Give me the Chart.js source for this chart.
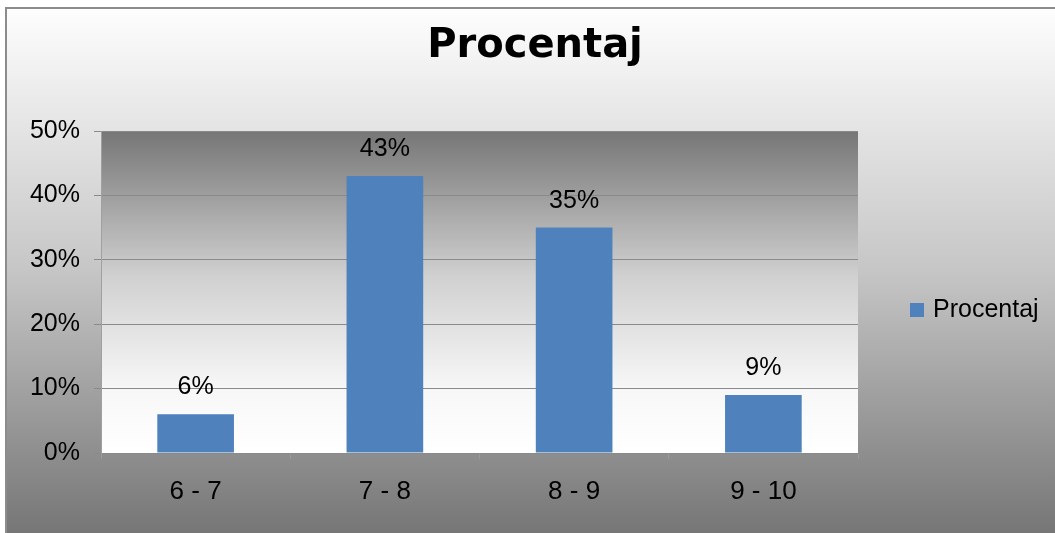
<!DOCTYPE html>
<html>
<head>
<meta charset="utf-8">
<script src="https://cdn.jsdelivr.net/npm/chart.js@4"></script>
<style>
html,body{margin:0;padding:0;background:#fff;}
canvas{display:block;}
</style>
</head>
<body>
<canvas id="c" width="1055" height="533"></canvas>
<script>
const categories = ['6 - 7', '7 - 8', '8 - 9', '9 - 10'];
const seriesName = 'Procentaj';
const values = [0.06, 0.43, 0.35, 0.09];
const yTickLabels = ['0%', '10%', '20%', '30%', '40%', '50%'];
const titleText = 'Procentaj';
const barColor = '#4F81BD';

const FONT = "'Liberation Sans', Arial, sans-serif";

const bgPlugin = {
  id: 'bg',
  beforeDraw(chart) {
    const ctx = chart.ctx;
    const W = chart.width, H = chart.height;
    ctx.save();
    ctx.fillStyle = '#ffffff';
    ctx.fillRect(0, 0, W, H);
    const g = ctx.createLinearGradient(0, 7, 0, H);
    g.addColorStop(0, '#fefefe');
    g.addColorStop(0.5, '#c6c6c6');
    g.addColorStop(1, '#767676');
    ctx.fillStyle = g;
    ctx.fillRect(5, 7, W - 5, H - 7);
    ctx.strokeStyle = '#8c8c8c';
    ctx.lineWidth = 2;
    ctx.beginPath();
    ctx.moveTo(6, H);
    ctx.lineTo(6, 8);
    ctx.lineTo(W, 8);
    ctx.stroke();
    const a = chart.chartArea;
    const pg = ctx.createLinearGradient(0, a.top, 0, a.bottom);
    pg.addColorStop(0, '#767676');
    pg.addColorStop(0.45, '#d0d0d0');
    pg.addColorStop(0.8, '#f7f7f7');
    pg.addColorStop(1, '#ffffff');
    ctx.fillStyle = pg;
    ctx.fillRect(a.left, a.top, a.right - a.left, a.bottom - a.top);
    ctx.restore();
  },
  afterDatasetsDraw(chart) {
    const ctx = chart.ctx;
    const meta = chart.getDatasetMeta(0);
    const ds = chart.data.datasets[0];
    ctx.save();
    ctx.font = '25px ' + FONT;
    ctx.fillStyle = '#000';
    ctx.textAlign = 'center';
    ctx.textBaseline = 'alphabetic';
    meta.data.forEach((bar, i) => {
      const v = ds.data[i];
      ctx.fillText(Math.round(v * 100) + '%', bar.x, bar.y - 20);
    });
    ctx.restore();
  },
  afterDraw(chart) {
    const ctx = chart.ctx;
    const ds = chart.data.datasets[0];
    ctx.save();
    ctx.fillStyle = ds.backgroundColor;
    ctx.fillRect(910, 303, 14, 14);
    ctx.font = '25px ' + FONT;
    ctx.fillStyle = '#000';
    ctx.textAlign = 'left';
    ctx.textBaseline = 'middle';
    ctx.fillText(ds.label, 933, 310);
    ctx.restore();
  }
};

new Chart(document.getElementById('c'), {
  type: 'bar',
  data: {
    labels: categories,
    datasets: [{
      label: seriesName,
      data: values,
      backgroundColor: barColor,
      borderWidth: 0,
      categoryPercentage: 1,
      barPercentage: 0.405
    }]
  },
  options: {
    responsive: false,
    animation: false,
    devicePixelRatio: 1,
    layout: { padding: { left: 15, right: 0, top: 0, bottom: 0 } },
    plugins: {
      legend: { display: false },
      tooltip: { enabled: false },
      title: {
        display: true,
        text: titleText,
        color: '#000',
        font: { family: "'DejaVu Sans', sans-serif", size: 40, weight: 'bold' },
        padding: { top: 23, bottom: 60 }
      }
    },
    scales: {
      x: {
        grid: { offset: true, drawOnChartArea: false, drawTicks: true, tickLength: 6, color: '#9a9a9a' },
        border: { display: true, color: '#8a8a8a' },
        ticks: { color: '#000', font: { family: FONT, size: 26 }, padding: 17 },
        afterFit(s) { s.height = 80; }
      },
      y: {
        min: 0, max: 0.5,
        ticks: {
          stepSize: 0.1,
          color: '#000',
          font: { family: FONT, size: 25 },
          padding: 14,
          callback: (v, i) => yTickLabels[i]
        },
        grid: { color: '#8a8a8a', tickLength: 7 },
        border: { display: true, color: '#a0a0a0' },
        afterFit(s) { s.width = 86; }
      },
      yRight: {
        position: 'right',
        display: true,
        grid: { display: false, drawTicks: false },
        border: { display: false },
        ticks: { display: false },
        afterFit(s) { s.width = 197; }
      }
    }
  },
  plugins: [bgPlugin]
});
</script>
</body>
</html>
